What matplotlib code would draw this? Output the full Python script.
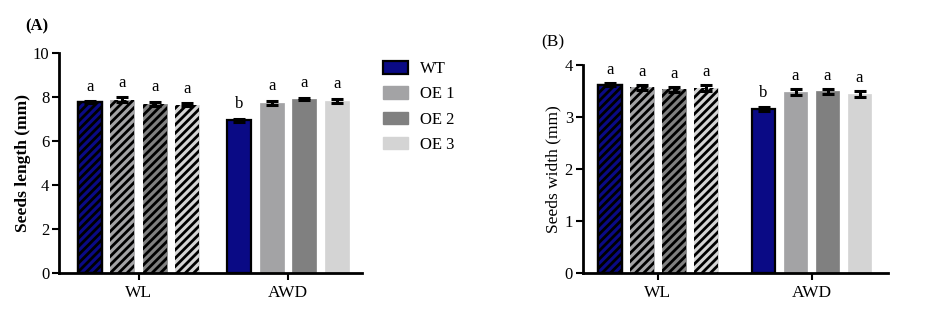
import matplotlib
matplotlib.use("Agg")
import matplotlib.pyplot as plt
import numpy as np
from matplotlib.patches import Patch

plt.rcParams['font.family'] = ['Liberation Serif', 'DejaVu Serif']
plt.rcParams['hatch.linewidth'] = 2.0

conditions = ["WL", "AWD"]
genotypes = ["WT", "OE 1", "OE 2", "OE 3"]
colors = ["#0a0a85", "#a3a3a5", "#808080", "#d4d4d4"]

length_mean = {"WL": [7.75, 7.87, 7.68, 7.64], "AWD": [6.93, 7.72, 7.90, 7.80]}
length_err = {"WL": [0.04, 0.10, 0.08, 0.07], "AWD": [0.07, 0.10, 0.05, 0.10]}
length_letters = {"WL": ["a", "a", "a", "a"], "AWD": ["b", "a", "a", "a"]}

width_mean = {"WL": [3.62, 3.57, 3.53, 3.55], "AWD": [3.16, 3.48, 3.49, 3.44]}
width_err = {"WL": [0.03, 0.05, 0.05, 0.06], "AWD": [0.04, 0.05, 0.04, 0.05]}
width_letters = {"WL": ["a", "a", "a", "a"], "AWD": ["b", "a", "a", "a"]}

fig = plt.figure(figsize=(9.41, 3.19), dpi=100)

def panel(ax, mean, err, letters, gap, xlim, ylim, yticks, ylabel, ybold, off, ylsize, lpad):
    for gi, cond in enumerate(conditions):
        for i, g in enumerate(genotypes):
            x = gi * gap + i - 1.5
            v = mean[cond][i]
            e = err[cond][i]
            if i == 0:
                ax.bar(x, v, 0.74, color=colors[i], edgecolor="black", linewidth=1.6, zorder=2)
            else:
                ax.bar(x, v, 0.74, color=colors[i], edgecolor=colors[i], linewidth=0.5, zorder=2)
            if cond == "WL":
                ax.bar(x, v, 0.74, color="none", edgecolor="black", linewidth=0, hatch="////", zorder=3)
                if i == 0:
                    ax.bar(x, v, 0.74, color="none", edgecolor="black", linewidth=1.6, zorder=4)
            ax.errorbar(x, v, yerr=e, color="black", capsize=4, elinewidth=2.2, capthick=2.2, zorder=5)
            ax.text(x, v + e + off, letters[cond][i], ha="center", va="bottom", fontsize=12)
    ax.set_xlim(*xlim)
    ax.set_ylim(*ylim)
    ax.set_yticks(yticks)
    ax.set_xticks([0, gap])
    ax.set_xticklabels(conditions, fontsize=12.5)
    ax.tick_params(axis='y', labelsize=12, width=1.5, length=5, direction='out', pad=2)
    ax.tick_params(axis='x', width=1.5, length=5, direction='out')
    for s in ["top", "right"]:
        ax.spines[s].set_visible(False)
    for s in ["left", "bottom"]:
        ax.spines[s].set_linewidth(2)
    ax.set_ylabel(ylabel, fontsize=ylsize, fontweight="bold" if ybold else "normal", labelpad=lpad)

axA = fig.add_axes([0.0627, 0.1433, 0.322, 0.6915])
panel(axA, length_mean, length_err, length_letters, 4.6, (-2.45, 6.87), (0, 10),
      [0, 2, 4, 6, 8, 10], "Seeds length (mm)", True, 0.3, 12.5, 1)
axB = fig.add_axes([0.6192, 0.1451, 0.3245, 0.6511])
panel(axB, width_mean, width_err, width_letters, 4.8, (-2.35, 7.19), (0, 4),
      [0, 1, 2, 3, 4], "Seeds width (mm)", False, 0.1, 12.5, 2)

fig.text(0.027, 0.905, "(A)", fontsize=12, fontweight="bold")
fig.text(0.575, 0.855, "(B)", fontsize=12.5)

handles = [Patch(facecolor=colors[0], edgecolor="black", linewidth=1.6)] + \
          [Patch(facecolor=c, edgecolor=c) for c in colors[1:]]
fig.legend(handles, genotypes, loc="upper left", bbox_to_anchor=(0.407, 0.808),
           frameon=False, fontsize=12, handlelength=1.5, handleheight=0.75,
           labelspacing=0.55, handletextpad=0.7, borderaxespad=0, borderpad=0)

fig.savefig("out.png", dpi=100)
